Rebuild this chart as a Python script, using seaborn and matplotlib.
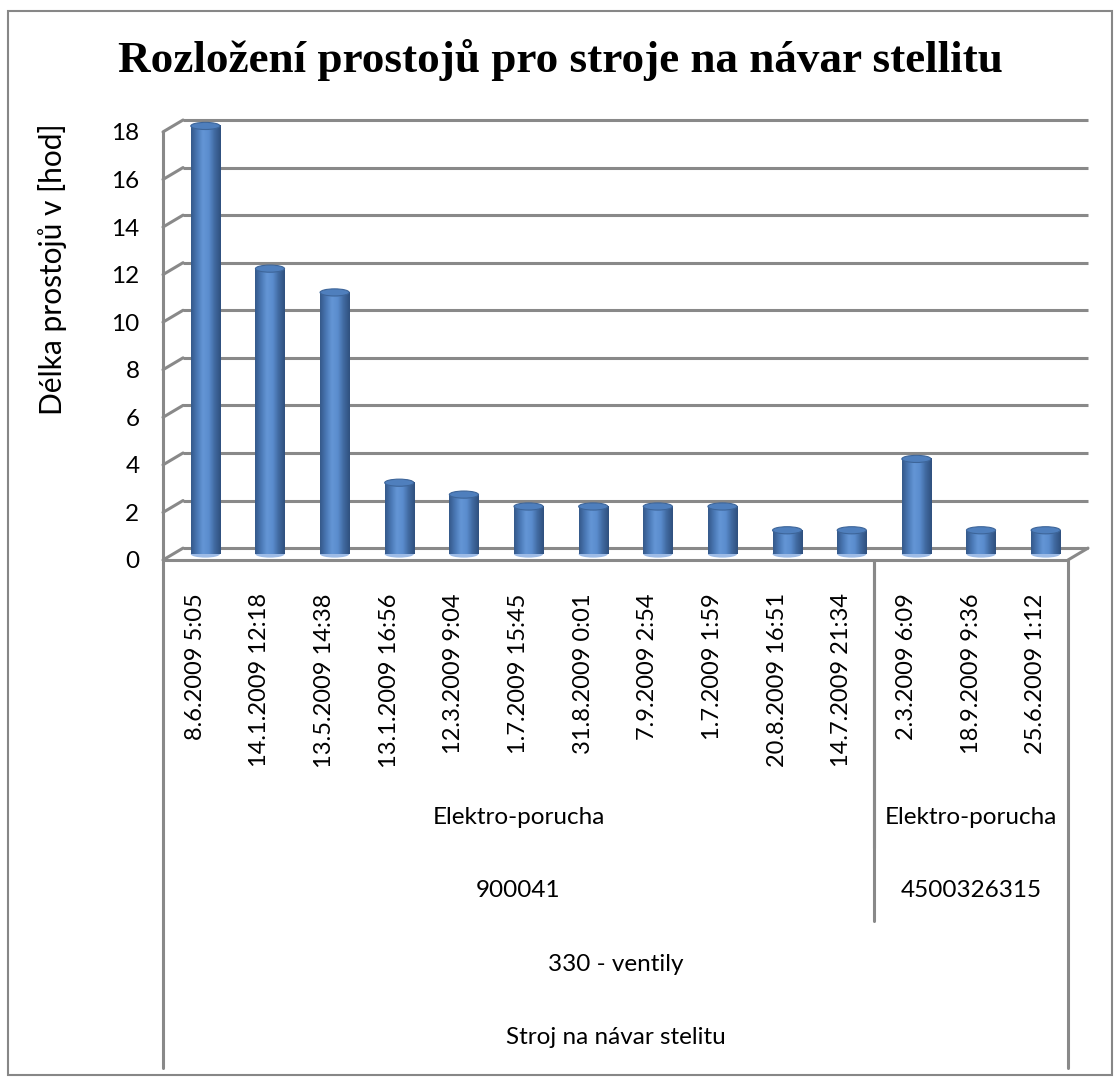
import numpy as np
import pandas as pd
import matplotlib
matplotlib.use("Agg")
import matplotlib.pyplot as plt
import seaborn as sns
from matplotlib.patches import Ellipse, Rectangle
from matplotlib.colors import LinearSegmentedColormap

# ---- data -------------------------------------------------------------
dates = ["8.6.2009 5:05", "14.1.2009 12:18", "13.5.2009 14:38",
         "13.1.2009 16:56", "12.3.2009 9:04", "1.7.2009 15:45",
         "31.8.2009 0:01", "7.9.2009 2:54", "1.7.2009 1:59",
         "20.8.2009 16:51", "14.7.2009 21:34", "2.3.2009 6:09",
         "18.9.2009 9:36", "25.6.2009 1:12"]
hours = [18, 12, 11, 3, 2.5, 2, 2, 2, 2, 1, 1, 4, 1, 1]
fault = ["Elektro-porucha"] * 14
order_no = ["900041"] * 11 + ["4500326315"] * 3
section = ["330 - ventily"] * 14
machine = ["Stroj na návar stelitu"] * 14
y_ticks = [0, 2, 4, 6, 8, 10, 12, 14, 16, 18]

title = "Rozložení prostojů pro stroje na návar stellitu"
y_label = "Délka prostojů v [hod]"

df = pd.DataFrame({"datum": dates, "hodiny": hours})

# ---- style ------------------------------------------------------------
sns.set_theme(style="white")
plt.rcParams["font.family"] = ["Lato", "DejaVu Sans"]
plt.rcParams["text.color"] = "black"

W, H = 1120, 1081
fig = plt.figure(figsize=(W / 100, H / 100), dpi=100)


def px_rect(x0, y0, x1, y1):
    return [x0 / W, 1 - y1 / H, (x1 - x0) / W, (y1 - y0) / H]


GRID = "#898989"
LW = 2.2
DX, DY = 0.31, 0.5          # depth offset of the 3-D box (category / hour units)
n = len(dates)

# ---- main 3-D column area --------------------------------------------
ax = fig.add_axes(px_rect(163, 120, 1088, 560))
sns.barplot(data=df, x="datum", y="hodiny", order=dates, width=0.45,
            color="#4f81bd", ax=ax, zorder=3)
ax.set_xlim(-0.5 - DX / 2, n - 0.5 + DX / 2)
ax.set_ylim(-DY / 2, y_ticks[-1] + DY / 2)
for s in ax.spines.values():
    s.set_visible(False)

# back wall gridlines and left-wall slants
for v in y_ticks:
    ax.plot([-0.5 + DX / 2, n - 0.5 + DX / 2], [v + DY / 2, v + DY / 2],
            color=GRID, lw=LW, clip_on=False, zorder=1, solid_capstyle="butt")
    ax.plot([-0.5 - DX / 2, -0.5 + DX / 2], [v - DY / 2, v + DY / 2],
            color=GRID, lw=LW, clip_on=False, zorder=1)
# front left axis, front floor edge, right floor slant
ax.plot([-0.5 - DX / 2] * 2, [-DY / 2, y_ticks[-1] - DY / 2],
        color=GRID, lw=LW, clip_on=False, zorder=2)
ax.plot([-0.5 - DX / 2, n - 0.5 - DX / 2], [-DY / 2, -DY / 2],
        color=GRID, lw=LW, clip_on=False, zorder=2)
ax.plot([n - 0.5 - DX / 2, n - 0.5 + DX / 2], [-DY / 2, DY / 2],
        color=GRID, lw=LW, clip_on=False, zorder=2)

# cylinder shading on each bar
cyl = LinearSegmentedColormap.from_list(
    "cyl", ["#35598a", "#4a78b5", "#6496d6", "#5a8ccd", "#40699f", "#2f507e"])
grad = np.linspace(0, 1, 64)[None, :]
eh = 0.3
for p in ax.patches:
    x0, w, h = p.get_x(), p.get_width(), p.get_height()
    cx = x0 + w / 2
    p.set_visible(False)
    ax.add_patch(Ellipse((cx, 0), w, eh, facecolor="#9dbbe6",
                         edgecolor="none", zorder=3))
    ax.imshow(grad, cmap=cyl, extent=[x0, x0 + w, 0, h], aspect="auto",
              zorder=4, interpolation="bicubic")
    ax.add_patch(Ellipse((cx, h), w, eh, facecolor="#4f7fbd",
                         edgecolor="#3d6599", lw=0.8, zorder=5))
ax.set_xlim(-0.5 - DX / 2, n - 0.5 + DX / 2)
ax.set_ylim(-DY / 2, y_ticks[-1] + DY / 2)

ax.set_yticks([v - DY / 2 for v in y_ticks])
ax.set_yticklabels([str(v) for v in y_ticks], fontsize=17.5, color="black")
ax.set_xticks([i - DX / 2 for i in range(n)])
ax.set_xticklabels(dates, rotation=90, fontsize=17, color="black",
                   ha="center", va="top")
ax.tick_params(axis="y", length=0, pad=17)
ax.tick_params(axis="x", length=0, pad=24)
ax.set_xlabel("")
ax.set_ylabel(y_label, fontsize=21.5, color="black")
ax.yaxis.set_label_coords(-0.104, 0.66)

# ---- hierarchical category table under the axis ----------------------
tab = fig.add_axes(px_rect(163, 560, 1068, 1068))
tab.set_xlim(-0.5, n - 0.5)
tab.set_ylim(508, 0)
tab.axis("off")

levels = [fault, order_no, section, machine]
row_top = [215, 288, 362, 435]
row_h = 73
for r, level in enumerate(levels):
    keys = list(zip(*levels[r:]))
    start = 0
    for i in range(1, n + 1):
        if i == n or keys[i] != keys[start]:
            tab.text((start + i - 1) / 2, row_top[r] + row_h / 2 + 6, level[start],
                     ha="center", va="center", fontsize=17.5, color="black")
            if i < n:
                tab.plot([i - 0.5, i - 0.5], [0, row_top[r] + row_h],
                         color=GRID, lw=LW, clip_on=False)
            start = i
for xe in (-0.5, n - 0.5):
    tab.plot([xe, xe], [0, 508], color=GRID, lw=LW, clip_on=False)

# ---- title and frame --------------------------------------------------
fig.text(0.5, 1 - 72 / H, title, ha="center", va="baseline", color="black",
         fontsize=32.5, fontweight="bold", family="Liberation Serif")
fig.add_artist(Rectangle((8 / W, 1 - 1075 / H), (1112 - 8) / W, (1075 - 11) / H,
                         transform=fig.transFigure, fill=False,
                         edgecolor="#878787", lw=1.5))

fig.savefig("out.png", dpi=100)
